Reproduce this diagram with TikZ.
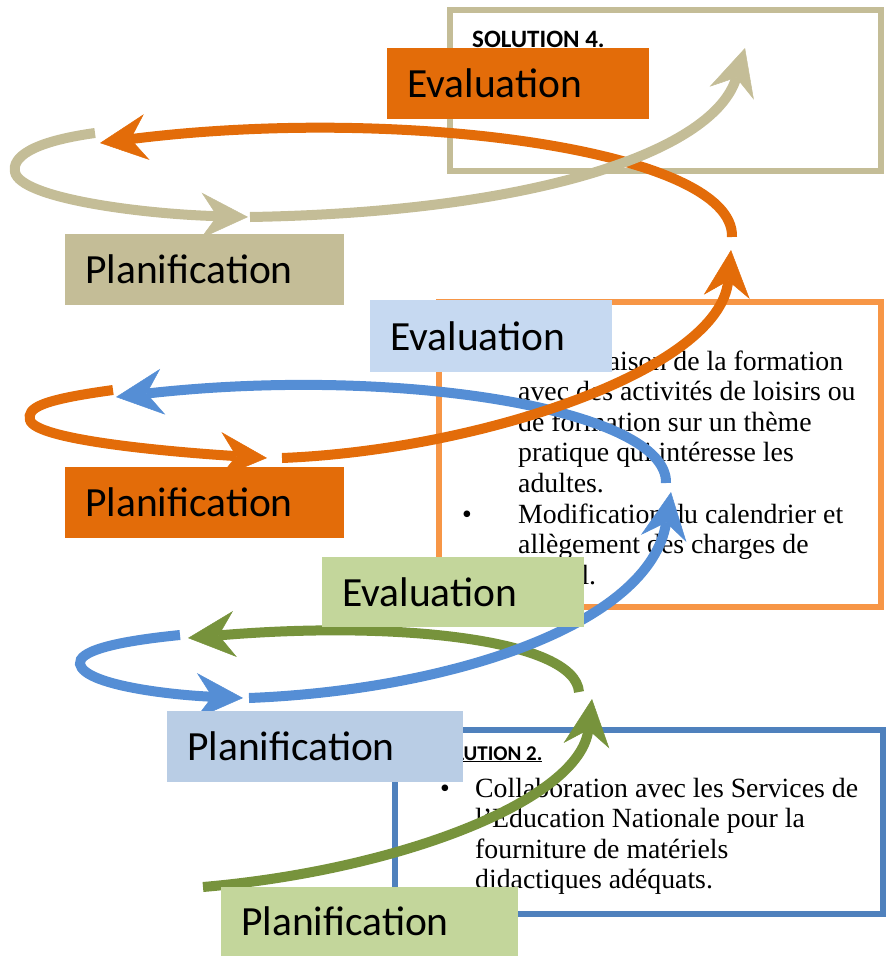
\documentclass[tikz,border=0pt]{standalone}
\usepackage{fontspec}
\setmainfont{Liberation Serif}
\newfontfamily\calib{Carlito}
\usepackage{tikz}
\usetikzlibrary{arrows.meta}
\definecolor{sand}{HTML}{C4BD97}
\definecolor{rust}{HTML}{E36C09}
\definecolor{peach}{HTML}{F79646}
\definecolor{sky}{HTML}{558ED5}
\definecolor{steel}{HTML}{4F81BD}
\definecolor{paleblue}{HTML}{C6D9F1}
\definecolor{mistblue}{HTML}{B9CDE5}
\definecolor{moss}{HTML}{77933C}
\definecolor{sage}{HTML}{C3D69B}
\tikzset{
  band/.style={draw=#1, line width=10pt, -{Stealth[length=47pt,width=46pt,inset=16pt,line width=0.5pt]}},
  frame/.style={draw=#1, line width=6pt},
  lbl/.style={fill=#1, anchor=north west, inner xsep=20pt, inner ysep=0pt, minimum height=71pt, align=left, font=\calib\fontsize{41.5}{48}\selectfont},
  head/.style={anchor=base west, inner sep=0pt, font=\calib\bfseries\fontsize{25}{28}\selectfont},
  body/.style={anchor=base west, inner sep=0pt, align=left, font=\fontsize{27.8}{30.5}\selectfont},
  bul/.style={anchor=base, inner sep=0pt, font=\fontsize{27.8}{30.5}\selectfont},
}

\begin{document}
\begin{tikzpicture}[x=1pt,y=-1pt]
  \useasboundingbox (0,0) rectangle (894,956);
  % solution frames
  \draw[frame=sand] (450,9.5) rectangle (880.5,171);
  \draw[frame=peach] (438.5,301.5) rectangle (880.5,607);
  \draw[frame=steel] (395,730) rectangle (883,913.5);
  \node[head] (headD) at (472,47) {SOLUTION 4.};
  % last baseline of each block is the anchor
  \node[body] (txtC1) at (518,492) {Combinaison de la formation\\avec des activités de loisirs ou\\de formation sur un thème\\pratique qui intéresse les\\adultes.};
  \node[bul] (bulC2) at (467,523) {\textbullet};
  \node[body] (txtC2) at (518,584) {Modification du calendrier et\\allègement des charges de\\travail.};
  \node[head, font=\calib\bfseries\fontsize{21}{24}\selectfont] (headA) at (431,760) {\underline{SOLUTION 2.}};
  \node[bul] (bulA1) at (445,797) {\textbullet};
  \node[body] (txtA1) at (475,888.5) {Collaboration avec les Services de\\l’Education Nationale pour la\\fourniture de matériels\\didactiques adéquats.};

  % spiral ends
  \coordinate (g0) at (203,887);
  \coordinate (g1) at (592,699);
  \coordinate (g2) at (579,692);
  \coordinate (g3) at (188,638);
  \coordinate (b0) at (180,635);
  \coordinate (b1) at (243,698);
  \coordinate (b2) at (249,698);
  \coordinate (b3) at (671,492);
  \coordinate (b4) at (666,483);
  \coordinate (b5) at (116,397);
  \coordinate (o0) at (113,390);
  \coordinate (o1) at (267,458);
  \coordinate (o2) at (282,458);
  \coordinate (o3) at (731,250);
  \coordinate (o4) at (732,237);
  \coordinate (o5) at (100,143);
  \coordinate (t0) at (95,133);
  \coordinate (t1) at (248,217);
  \coordinate (t2) at (250,217);
  \coordinate (t3) at (745,48);

  \draw[band=moss] (g0) .. controls (400,870) and (580,800) .. (g1);
  \draw[band=moss] (g2) .. controls (575,640) and (400,620) .. (g3);
  \draw[band=sky] (b0) .. controls (110,642) and (78,652) .. (80,664) .. controls (84,685) and (170,695) .. (b1);
  \draw[band=sky] (b2) .. controls (450,690) and (650,625) .. (b3);
  \draw[band=sky] (b4) .. controls (668,410) and (400,365) .. (b5);
  \draw[band=rust] (o0) .. controls (40,400) and (27,408) .. (30,420) .. controls (35,440) and (170,452) .. (o1);
  \draw[band=rust] (o2) .. controls (480,450) and (720,370) .. (o3);
  \draw[band=rust] (o4) .. controls (735,150) and (400,105) .. (o5);
  \draw[band=sand] (t0) .. controls (30,142) and (12,158) .. (15,172) .. controls (20,198) and (140,214) .. (t1);
  \draw[band=sand] (t2) .. controls (540,212) and (715,150) .. (t3);

  % step labels
  \node[lbl=rust, text width=222pt] (evalD) at (387,48) {Evaluation};
  \node[lbl=sand, text width=239pt] (planC) at (65,234) {Planification};
  \node[lbl=paleblue, text width=202pt, minimum height=72pt] (evalC) at (370,300) {Evaluation};
  \node[lbl=rust, text width=239pt] (planB) at (65,467) {Planification};
  \node[lbl=sage, text width=222pt, minimum height=70pt] (evalB) at (322,557) {Evaluation};
  \node[lbl=mistblue, text width=256pt] (planA) at (167,711) {Planification};
  \node[lbl=sage, text width=257pt, minimum height=69pt] (planZ) at (221,887) {Planification};
\end{tikzpicture}
\end{document}
